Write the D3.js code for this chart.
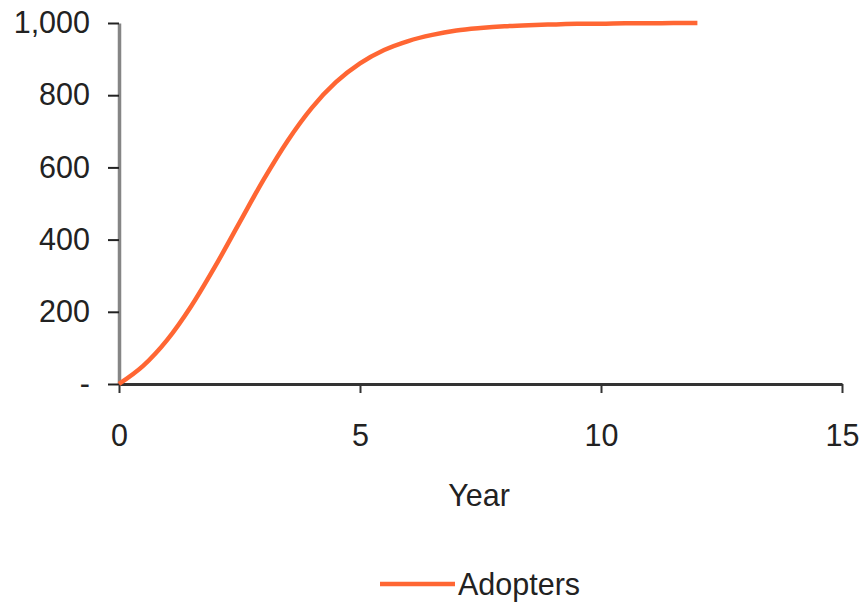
<!DOCTYPE html>
<html>
<head>
<meta charset="utf-8">
<script src="https://cdn.jsdelivr.net/npm/d3@7"></script>
<style>
  html, body { margin: 0; padding: 0; background: #fff; }
  svg { display: block; }
  text { font-family: "Liberation Sans", Arial, Helvetica, sans-serif; fill: #222; }
</style>
</head>
<body>
<svg id="chart" width="865" height="602"></svg>
<script>
// Data
const years    = [0, 0.5, 1, 1.5, 2, 2.5, 3, 3.5, 4, 4.5, 5, 5.5, 6, 6.5, 7, 7.5, 8, 8.5, 9, 9.5, 10, 10.5, 11, 11.5, 12];
const adopters = [0, 50, 122, 216, 327, 447, 566, 674, 765, 836, 888, 925, 950, 967, 979, 986, 991, 994, 996, 998, 998, 999, 999, 1000, 1000];
const xTicks = [0, 5, 10, 15];
const yTicks = [0, 200, 400, 600, 800, 1000];
const seriesName = "Adopters";
const xTitle = "Year";

const svg = d3.select("#chart");
const x = d3.scaleLinear().domain([0, 15]).range([119, 842]);
const y = d3.scaleLinear().domain([0, 1000]).range([384, 23]);
const fontSize = 30.5;
const orange = "#ff6633";

// Y axis
const yAxis = d3.axisLeft(y)
  .tickValues(yTicks)
  .tickSize(11)
  .tickSizeOuter(0)
  .tickPadding(18)
  .tickFormat(d => d === 0 ? "-" : d3.format(",")(d));
const gy = svg.append("g").attr("transform", `translate(${x(0)},0)`).call(yAxis);
gy.select(".domain").attr("stroke", "#858585").attr("stroke-width", 3.5);
gy.selectAll(".tick line").attr("stroke", "#222").attr("stroke-width", 2);
gy.selectAll(".tick text").attr("font-size", fontSize).attr("fill", "#222")
  .attr("font-family", "'Liberation Sans', Arial, sans-serif");

// X axis
const xAxis = d3.axisBottom(x)
  .tickValues(xTicks)
  .tickSize(9)
  .tickSizeOuter(0)
  .tickPadding(31)
  .tickFormat(d3.format("d"));
const gx = svg.append("g").attr("transform", `translate(0,${y(0)})`).call(xAxis);
gx.select(".domain").attr("stroke", "#333").attr("stroke-width", 3);
gx.selectAll(".tick line").attr("stroke", "#333").attr("stroke-width", 2);
gx.selectAll(".tick text").attr("font-size", fontSize).attr("fill", "#222")
  .attr("font-family", "'Liberation Sans', Arial, sans-serif");

// X title
svg.append("text")
  .attr("x", 479)
  .attr("y", 506)
  .attr("text-anchor", "middle")
  .attr("font-size", fontSize)
  .text(xTitle);

// Line
const line = d3.line()
  .x((d, i) => x(years[i]))
  .y(d => y(d))
  .curve(d3.curveMonotoneX);
svg.append("path")
  .datum(adopters)
  .attr("d", line)
  .attr("fill", "none")
  .attr("stroke", orange)
  .attr("stroke-width", 4.5)
  .attr("stroke-linecap", "butt");

// Legend
const lg = svg.append("g").attr("transform", "translate(380,584)");
lg.append("line").attr("x1", 0).attr("x2", 75).attr("y1", 0).attr("y2", 0)
  .attr("stroke", orange).attr("stroke-width", 4.5);
lg.append("text").attr("x", 78).attr("y", 0).attr("dy", "0.35em")
  .attr("font-size", fontSize).text(seriesName);
</script>
</body>
</html>
